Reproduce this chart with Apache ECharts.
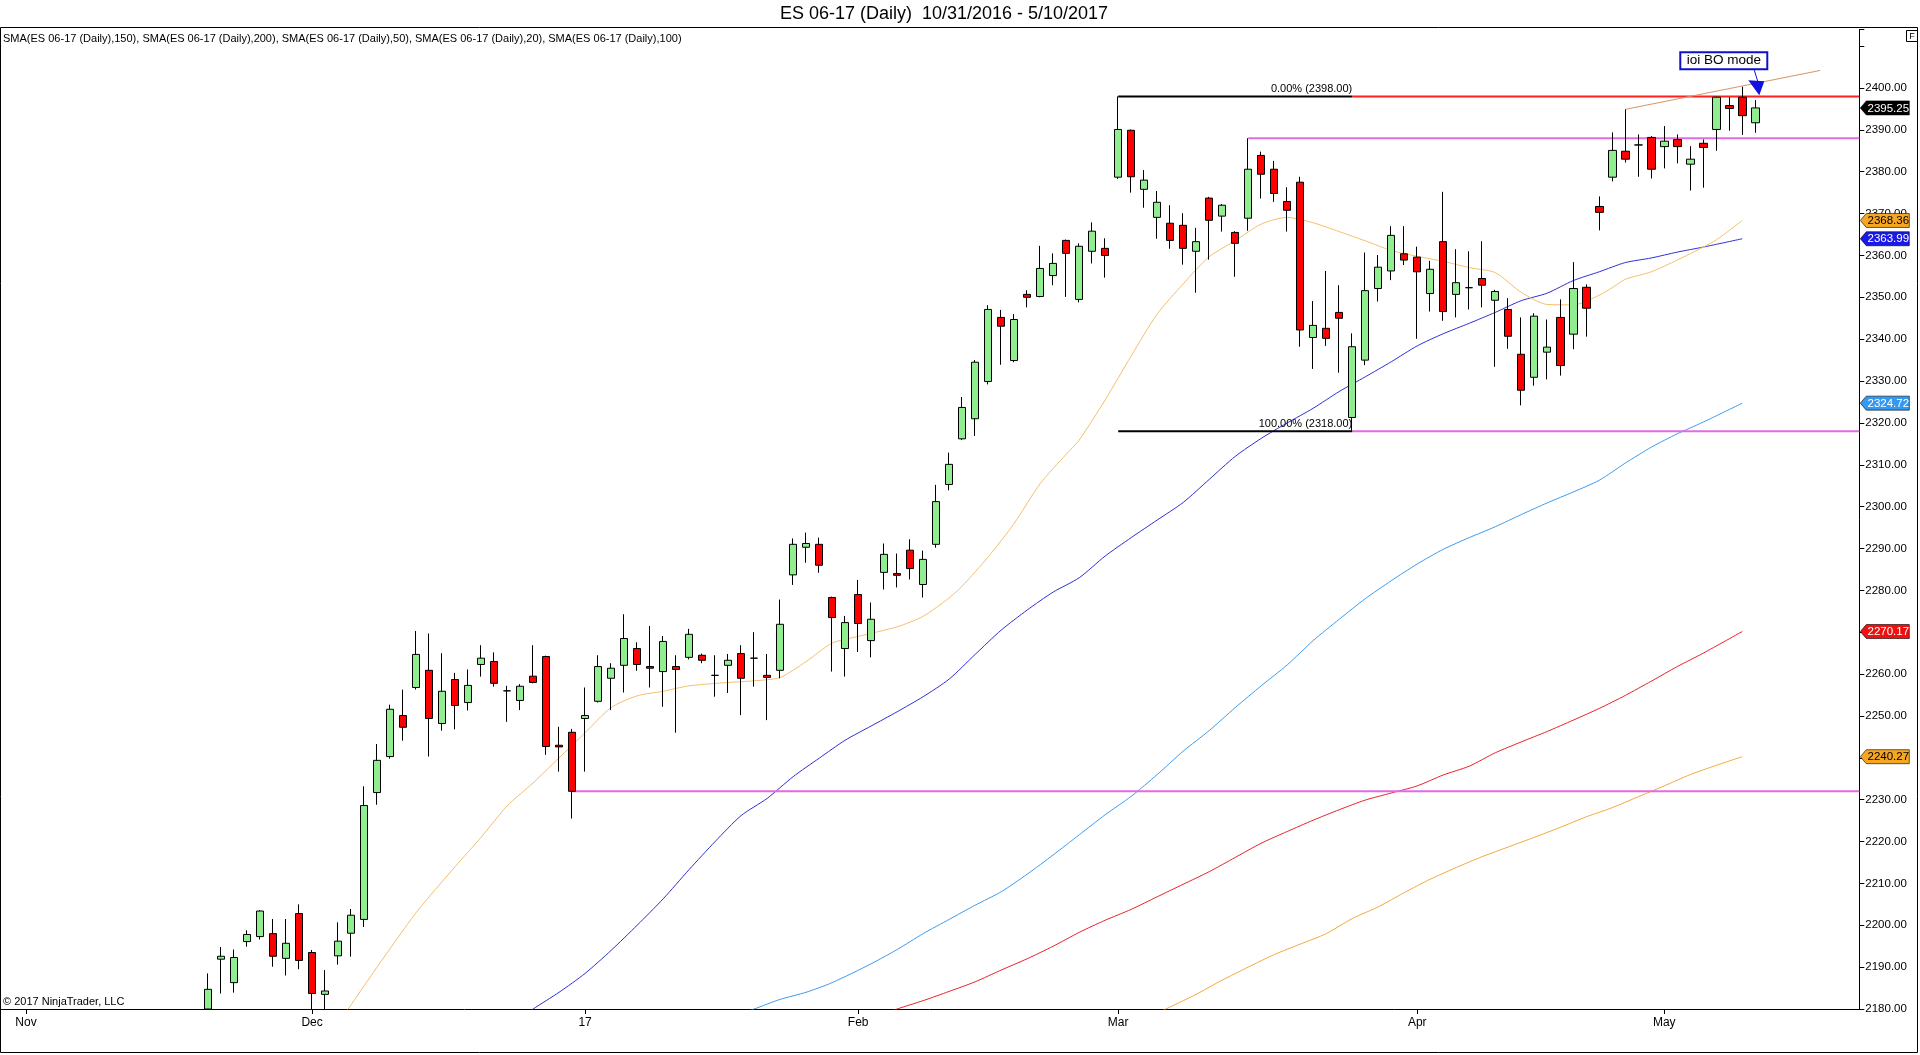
<!DOCTYPE html>
<html><head><meta charset="utf-8">
<script src="https://cdn.jsdelivr.net/npm/echarts@6/dist/echarts.min.js"></script>
<style>html,body{margin:0;padding:0;background:#fff;overflow:hidden}#c{width:1920px;height:1055px}</style>
</head><body><div id="c"></div>
<script>
// ---------- categories (trading days) ----------
const dates = [
'2016-10-28',
'2016-10-31','2016-11-01','2016-11-02','2016-11-03','2016-11-04',
'2016-11-07','2016-11-08','2016-11-09','2016-11-10','2016-11-11',
'2016-11-14','2016-11-15','2016-11-16','2016-11-17','2016-11-18',
'2016-11-21','2016-11-22','2016-11-23','2016-11-24','2016-11-25',
'2016-11-28','2016-11-29','2016-11-30','2016-12-01','2016-12-02',
'2016-12-05','2016-12-06','2016-12-07','2016-12-08','2016-12-09',
'2016-12-12','2016-12-13','2016-12-14','2016-12-15','2016-12-16',
'2016-12-19','2016-12-20','2016-12-21','2016-12-22','2016-12-23',
'2016-12-27','2016-12-28','2016-12-29','2016-12-30',
'2017-01-03','2017-01-04','2017-01-05','2017-01-06',
'2017-01-09','2017-01-10','2017-01-11','2017-01-12','2017-01-13',
'2017-01-16','2017-01-17','2017-01-18','2017-01-19','2017-01-20',
'2017-01-23','2017-01-24','2017-01-25','2017-01-26','2017-01-27',
'2017-01-30','2017-01-31','2017-02-01','2017-02-02','2017-02-03',
'2017-02-06','2017-02-07','2017-02-08','2017-02-09','2017-02-10',
'2017-02-13','2017-02-14','2017-02-15','2017-02-16','2017-02-17',
'2017-02-20','2017-02-21','2017-02-22','2017-02-23','2017-02-24',
'2017-02-27','2017-02-28','2017-03-01','2017-03-02','2017-03-03',
'2017-03-06','2017-03-07','2017-03-08','2017-03-09','2017-03-10',
'2017-03-13','2017-03-14','2017-03-15','2017-03-16','2017-03-17',
'2017-03-20','2017-03-21','2017-03-22','2017-03-23','2017-03-24',
'2017-03-27','2017-03-28','2017-03-29','2017-03-30','2017-03-31',
'2017-04-03','2017-04-04','2017-04-05','2017-04-06','2017-04-07',
'2017-04-10','2017-04-11','2017-04-12','2017-04-13',
'2017-04-17','2017-04-18','2017-04-19','2017-04-20','2017-04-21',
'2017-04-24','2017-04-25','2017-04-26','2017-04-27','2017-04-28',
'2017-05-01','2017-05-02','2017-05-03','2017-05-04','2017-05-05',
'2017-05-08','2017-05-09','2017-05-10',
'2017-05-11','2017-05-12','2017-05-15','2017-05-16','2017-05-17','2017-05-18','2017-05-19','2017-05-22'
];
const monthLabels = [['2016-11-01','Nov'],['2016-12-01','Dec'],['2017-01-03','17'],['2017-02-01','Feb'],['2017-03-01','Mar'],['2017-04-03','Apr'],['2017-05-01','May']];

// ---------- daily bars: date, open, high, low, close ----------
const bars = [
['2016-11-21',2180.0,2188.5,2180.0,2184.7],['2016-11-22',2191.9,2194.8,2183.7,2192.6],
['2016-11-23',2186.3,2194.2,2183.9,2192.3],['2016-11-24',2196.1,2198.8,2194.9,2197.8],
['2016-11-25',2197.3,2203.6,2196.6,2203.4],['2016-11-28',2198.0,2201.5,2190.1,2192.6],
['2016-11-29',2192.1,2201.5,2188.0,2195.7],['2016-11-30',2202.8,2205.0,2189.5,2191.6],
['2016-12-01',2193.5,2194.1,2180.0,2183.7],['2016-12-02',2183.5,2189.3,2180.0,2184.3],
['2016-12-05',2192.7,2200.7,2190.6,2196.2],['2016-12-06',2198.1,2203.9,2192.5,2202.4],
['2016-12-07',2201.4,2233.2,2199.6,2228.6],['2016-12-08',2231.7,2243.3,2228.8,2239.4],
['2016-12-09',2240.3,2252.7,2239.8,2251.6],['2016-12-12',2250.1,2256.3,2244.1,2247.3],
['2016-12-13',2256.8,2270.3,2256.3,2264.7],['2016-12-14',2260.9,2269.7,2240.3,2249.4],
['2016-12-15',2248.2,2265.0,2246.5,2255.9],['2016-12-16',2258.7,2260.3,2246.8,2252.5],
['2016-12-19',2253.2,2261.1,2251.3,2257.3],['2016-12-20',2262.3,2266.9,2259.4,2263.8],
['2016-12-21',2263.0,2265.2,2257.0,2257.8],['2016-12-22',2256.0,2257.2,2248.6,2256.0],
['2016-12-23',2253.7,2257.6,2251.4,2257.1],['2016-12-27',2259.5,2266.9,2257.8,2258.0],
['2016-12-28',2264.2,2264.4,2240.7,2242.7],['2016-12-29',2243.0,2247.4,2236.7,2242.6],
['2016-12-30',2246.1,2246.9,2225.5,2232.0],['2017-01-03',2249.4,2256.8,2236.7,2250.1],
['2017-01-04',2253.5,2264.5,2253.2,2261.8],['2017-01-05',2259.0,2262.6,2251.4,2261.4],
['2017-01-06',2262.1,2274.3,2255.6,2268.5],['2017-01-09',2266.1,2267.6,2260.8,2262.3],
['2017-01-10',2261.8,2271.5,2256.8,2261.4],['2017-01-11',2260.6,2269.1,2252.2,2267.8],
['2017-01-12',2261.8,2264.5,2246.0,2261.1],['2017-01-13',2264.0,2270.8,2263.5,2269.5],
['2017-01-16',2264.5,2264.9,2262.6,2263.3],['2017-01-17',2259.7,2264.5,2254.6,2259.7],
['2017-01-18',2262.1,2264.8,2255.5,2263.3],['2017-01-19',2264.9,2266.9,2250.2,2259.0],
['2017-01-20',2263.8,2270.0,2257.0,2263.8],['2017-01-23',2259.7,2264.8,2249.0,2259.2],
['2017-01-24',2260.9,2277.8,2259.0,2271.9],['2017-01-25',2283.7,2292.4,2281.3,2291.0],
['2017-01-26',2290.3,2293.8,2286.6,2291.2],['2017-01-27',2291.0,2292.6,2284.2,2286.0],
['2017-01-30',2278.3,2278.5,2260.6,2273.5],['2017-01-31',2266.1,2273.9,2259.4,2272.3],
['2017-02-01',2279.0,2282.5,2265.3,2272.1],['2017-02-02',2268.0,2277.1,2264.0,2273.1],
['2017-02-03',2284.3,2291.2,2280.2,2288.6],['2017-02-06',2284.0,2288.8,2280.7,2283.6],
['2017-02-07',2289.6,2292.2,2282.6,2285.2],['2017-02-08',2281.4,2289.5,2278.3,2287.4],
['2017-02-09',2291.0,2305.2,2290.2,2301.2],['2017-02-10',2305.3,2312.9,2303.9,2310.1],
['2017-02-13',2316.2,2326.2,2315.9,2323.7],['2017-02-14',2321.0,2335.0,2316.9,2334.5],
['2017-02-15',2329.9,2348.1,2329.2,2347.1],['2017-02-16',2345.2,2347.0,2333.9,2343.1],
['2017-02-17',2334.9,2346.0,2334.5,2344.7],['2017-02-20',2350.7,2351.7,2347.6,2350.0],
['2017-02-21',2350.2,2362.3,2350.0,2356.9],['2017-02-22',2355.2,2360.5,2352.9,2358.1],
['2017-02-23',2363.6,2363.8,2350.1,2360.5],['2017-02-24',2349.5,2362.9,2348.8,2362.2],
['2017-02-27',2361.0,2367.9,2358.1,2365.8],['2017-02-28',2361.7,2364.1,2354.7,2360.0],
['2017-03-01',2378.7,2398.0,2378.3,2390.1],['2017-03-02',2389.9,2390.1,2375.0,2378.8],
['2017-03-03',2375.8,2380.4,2371.4,2378.0],['2017-03-06',2369.1,2375.4,2364.0,2372.7],
['2017-03-07',2367.7,2372.0,2361.6,2363.6],['2017-03-08',2367.2,2370.1,2357.8,2361.7],
['2017-03-09',2361.0,2366.6,2351.1,2363.3],['2017-03-10',2373.7,2374.0,2359.0,2368.4],
['2017-03-13',2369.4,2372.3,2365.7,2372.0],['2017-03-14',2365.5,2365.8,2354.9,2362.9],
['2017-03-15',2368.9,2388.0,2365.9,2380.6],['2017-03-16',2383.9,2384.8,2373.6,2379.4],
['2017-03-17',2380.6,2382.6,2372.8,2374.8],['2017-03-20',2372.9,2376.3,2365.7,2370.8],
['2017-03-21',2377.5,2378.8,2338.2,2342.2],['2017-03-22',2340.4,2349.1,2332.9,2343.3],
['2017-03-23',2342.6,2356.3,2338.4,2340.2],['2017-03-24',2346.4,2352.9,2332.0,2345.0],
['2017-03-27',2321.3,2341.4,2318.0,2338.2],['2017-03-28',2335.0,2360.7,2333.8,2351.6],
['2017-03-29',2352.1,2360.1,2349.0,2357.2],['2017-03-30',2356.3,2367.0,2354.1,2364.8],
['2017-03-31',2360.4,2367.0,2357.7,2358.9],['2017-04-03',2359.6,2362.1,2340.1,2356.1],
['2017-04-04',2350.9,2358.7,2346.6,2356.7],['2017-04-05',2363.3,2375.2,2344.4,2346.6],
['2017-04-06',2350.7,2361.5,2345.2,2353.5],['2017-04-07',2352.3,2361.0,2347.1,2352.3],
['2017-04-10',2354.5,2363.4,2347.6,2352.9],['2017-04-11',2349.3,2351.8,2333.4,2351.4],
['2017-04-12',2347.1,2349.8,2337.7,2340.7],['2017-04-13',2336.4,2345.2,2324.2,2327.8],
['2017-04-17',2330.9,2346.2,2328.9,2345.5],['2017-04-18',2336.9,2344.7,2330.4,2338.1],
['2017-04-19',2345.2,2349.5,2331.3,2333.7],['2017-04-20',2341.2,2358.4,2337.6,2352.1],
['2017-04-21',2352.4,2353.1,2340.6,2347.4],['2017-04-24',2371.7,2374.1,2366.0,2370.3],
['2017-04-25',2378.7,2389.4,2377.7,2385.1],['2017-04-26',2384.9,2394.9,2382.2,2383.0],
['2017-04-27',2386.4,2388.9,2378.8,2386.4],['2017-04-28',2388.2,2388.5,2378.4,2380.6],
['2017-05-01',2386.0,2390.9,2380.8,2387.3],['2017-05-02',2387.7,2388.9,2382.0,2386.0],
['2017-05-03',2381.8,2386.1,2375.5,2383.0],['2017-05-04',2386.8,2387.7,2376.2,2385.8],
['2017-05-05',2390.1,2397.9,2385.0,2397.8],['2017-05-08',2395.8,2397.8,2389.8,2395.1],
['2017-05-09',2397.8,2400.3,2388.8,2393.4],['2017-05-10',2391.7,2397.1,2389.3,2395.25]
];

// ---------- moving averages ----------
const sma20 = [
['2016-12-05',2176.5],['2016-12-06',2181],['2016-12-08',2190],['2016-12-13',2203],['2016-12-16',2214],
['2016-12-20',2221],['2016-12-22',2228.5],['2016-12-27',2234],['2016-12-29',2240],['2017-01-03',2246],
['2017-01-05',2252],['2017-01-09',2254.8],['2017-01-11',2255.9],['2017-01-13',2257.2],['2017-01-18',2258],
['2017-01-20',2258.4],['2017-01-24',2259.2],['2017-01-26',2263],['2017-01-30',2267.4],['2017-02-01',2269],
['2017-02-06',2271.3],['2017-02-08',2273.8],['2017-02-10',2278.2],['2017-02-13',2281],['2017-02-15',2288],
['2017-02-17',2296],['2017-02-21',2305.5],['2017-02-23',2312.5],['2017-02-24',2315.9],['2017-02-28',2325.5],
['2017-03-02',2336],['2017-03-06',2346],['2017-03-08',2353.2],['2017-03-10',2359.7],['2017-03-14',2363.5],
['2017-03-16',2367.5],['2017-03-20',2369.1],['2017-03-22',2367.8],['2017-03-24',2365.7],['2017-03-28',2363.5],
['2017-03-30',2361.2],['2017-04-03',2359.8],['2017-04-05',2358.6],['2017-04-07',2357.1],['2017-04-11',2355.9],
['2017-04-13',2351.2],['2017-04-18',2348.3],['2017-04-20',2348.2],['2017-04-24',2350.5],['2017-04-25',2352.3],
['2017-04-26',2354.3],['2017-04-28',2356.1],['2017-05-02',2358.9],['2017-05-04',2362],['2017-05-05',2363.7],
['2017-05-09',2368.36]
];
const sma50 = [
['2016-12-23',2177.8],['2016-12-27',2180],['2016-12-29',2184],['2017-01-03',2188.5],['2017-01-05',2194],
['2017-01-09',2200],['2017-01-11',2206.3],['2017-01-13',2213.3],['2017-01-17',2220],['2017-01-19',2226.2],
['2017-01-23',2230.3],['2017-01-25',2235.5],['2017-01-27',2239.9],['2017-01-31',2244.2],['2017-02-02',2247.6],
['2017-02-06',2251],['2017-02-08',2254.6],['2017-02-10',2258.8],['2017-02-14',2264.7],['2017-02-16',2270.5],
['2017-02-20',2275.3],['2017-02-22',2279.6],['2017-02-24',2283],['2017-02-28',2288.2],['2017-03-02',2292.6],
['2017-03-06',2296.8],['2017-03-08',2301],['2017-03-10',2306.5],['2017-03-14',2312],['2017-03-16',2316.3],
['2017-03-20',2320],['2017-03-22',2323.5],['2017-03-24',2327.5],['2017-03-28',2331],['2017-03-30',2334.6],
['2017-04-03',2338.4],['2017-04-05',2341.3],['2017-04-07',2343.8],['2017-04-11',2346.4],['2017-04-13',2349.2],
['2017-04-18',2351],['2017-04-20',2354],['2017-04-24',2356.1],['2017-04-26',2358.3],['2017-04-28',2359.4],
['2017-05-02',2360.8],['2017-05-04',2362],['2017-05-09',2363.99]
];
const sma100 = [
['2017-01-19',2179],['2017-01-20',2180],['2017-01-24',2182.3],['2017-01-26',2184],['2017-01-30',2186.3],
['2017-02-02',2190.8],['2017-02-06',2194.2],['2017-02-08',2198],['2017-02-10',2201.4],['2017-02-14',2204.8],
['2017-02-16',2208],['2017-02-20',2212.2],['2017-02-22',2216.8],['2017-02-24',2221.6],['2017-02-28',2226.4],
['2017-03-02',2230.8],['2017-03-06',2236],['2017-03-08',2241.6],['2017-03-10',2246.5],['2017-03-14',2252],
['2017-03-16',2257.2],['2017-03-20',2262.2],['2017-03-22',2268],['2017-03-24',2273.1],['2017-03-28',2278],
['2017-03-30',2282.3],['2017-04-03',2286.3],['2017-04-05',2289.8],['2017-04-07',2292.6],['2017-04-11',2295.2],
['2017-04-13',2298.1],['2017-04-18',2300.9],['2017-04-20',2303.5],['2017-04-24',2306.3],['2017-04-26',2310.4],
['2017-04-28',2314.2],['2017-05-02',2317.4],['2017-05-04',2320.2],['2017-05-09',2324.72]
];
const sma150 = [
['2017-02-03',2178.8],['2017-02-06',2180],['2017-02-08',2182],['2017-02-10',2184.2],['2017-02-14',2186.5],
['2017-02-16',2189.3],['2017-02-20',2192],['2017-02-22',2195],['2017-02-24',2198.3],['2017-02-28',2201.2],
['2017-03-02',2203.8],['2017-03-06',2206.8],['2017-03-08',2209.8],['2017-03-10',2212.8],['2017-03-14',2216.2],
['2017-03-16',2219.6],['2017-03-20',2222.4],['2017-03-22',2225.1],['2017-03-24',2227.6],['2017-03-28',2229.9],
['2017-03-30',2231.6],['2017-04-03',2233.3],['2017-04-05',2235.9],['2017-04-07',2238],['2017-04-11',2241.2],
['2017-04-13',2243.8],['2017-04-18',2246.3],['2017-04-20',2249],['2017-04-24',2251.8],['2017-04-26',2254.9],
['2017-04-28',2258.3],['2017-05-02',2261.8],['2017-05-04',2265],['2017-05-09',2270.17]
];
const sma200 = [
['2017-03-06',2179],['2017-03-07',2180.5],['2017-03-09',2183.5],['2017-03-13',2186.9],['2017-03-15',2190],
['2017-03-17',2193],['2017-03-21',2195.5],['2017-03-23',2198],['2017-03-27',2201.6],['2017-03-29',2204.4],
['2017-03-31',2207.8],['2017-04-04',2211],['2017-04-06',2213.8],['2017-04-10',2216.4],['2017-04-12',2218.7],
['2017-04-17',2221],['2017-04-19',2223.4],['2017-04-21',2225.9],['2017-04-25',2228.1],['2017-04-27',2230.7],
['2017-05-01',2233.3],['2017-05-03',2236],['2017-05-05',2238.2],['2017-05-09',2240.27]
];

// ---------- drawings ----------
const fib0 = [['2017-03-01',2398],['2017-03-27',2398]];
const fib100 = [['2017-03-01',2318],['2017-03-27',2318]];
const redLevel = [['2017-03-27',2398],['2017-05-22',2398]];
const pinkHigh = [['2017-03-15',2388],['2017-05-22',2388]];
const pinkMid = [['2017-03-27',2318],['2017-05-22',2318]];
const pinkLow = [['2016-12-30',2232],['2017-05-22',2232]];
const trendLine = [['2017-04-26',2394.9],['2017-05-17',2404.2]];
const arrowTip = ['2017-05-10',2398.3];

const FONT = '"Liberation Sans", Arial, sans-serif';
const barMap = {};
bars.forEach(b => { barMap[b[0]] = [b[1], b[4], b[3], b[2]]; });
const candleData = dates.map(d => barMap[d] || '-');
const labelMap = {};
monthLabels.forEach(m => { labelMap[m[0]] = m[1]; });
const isMonth = (i, v) => labelMap[v] !== undefined;

function lineSeries(data, color, width, z, smooth) {
  return { type: 'line', data: data, symbol: 'none', connectNulls: true, silent: true,
    smooth: smooth ? 0.25 : false,
    lineStyle: { color: color, width: width }, z: z, clip: true, animation: false };
}

const chart = echarts.init(document.getElementById('c'), null, { renderer: 'canvas' });
chart.setOption({
  animation: false,
  backgroundColor: '#fff',
  grid: { left: 0, right: 60.7, top: 29.4, bottom: 46 },
  xAxis: {
    type: 'category', data: dates, boundaryGap: false,
    axisLine: { lineStyle: { color: '#000', width: 1 } },
    axisTick: { show: true, interval: isMonth, length: 5, lineStyle: { color: '#000' } },
    axisLabel: { interval: isMonth, formatter: v => labelMap[v] || '', color: '#000', fontSize: 12, fontFamily: FONT, margin: 8 },
    splitLine: { show: false }
  },
  yAxis: {
    type: 'value', position: 'right', min: 2180, max: 2414, interval: 10, scale: true,
    axisLine: { show: true, lineStyle: { color: '#000', width: 1 } },
    axisTick: { show: true, length: 5, lineStyle: { color: '#000' } },
    axisLabel: { formatter: v => (v > 2405 ? '' : v.toFixed(2)), color: '#000', fontSize: 11.5, fontFamily: FONT, margin: 6 },
    splitLine: { show: false }
  },
  series: [
    lineSeries(sma200, '#F2A93B', 1, 2, true),
    lineSeries(sma150, '#E8202A', 1, 2, true),
    lineSeries(sma100, '#3C9BEF', 1, 2, true),
    lineSeries(sma50, '#2E2ED6', 1, 2, true),
    lineSeries(sma20, '#F5BE6A', 1, 2, true),
    lineSeries(pinkLow, '#E36AE3', 2, 3),
    lineSeries(pinkMid, '#E36AE3', 2, 3),
    lineSeries(pinkHigh, '#E36AE3', 2, 3),
    lineSeries(redLevel, '#FF2020', 2, 3),
    lineSeries(fib0, '#000000', 2, 4),
    lineSeries(fib100, '#000000', 2, 4),
    lineSeries(trendLine, '#DA9465', 1, 3),
    {
      type: 'candlestick', data: candleData, barWidth: 8, z: 5, silent: true, clip: true,
      itemStyle: { color: '#90EE90', color0: '#FF0000', borderColor: '#000', borderColor0: '#000', borderWidth: 1 }
    }
  ]
});

// ---------- annotations positioned through the chart's scales ----------
const px = (d, v) => chart.convertToPixel({ gridIndex: 0 }, [dates.indexOf(d), v]);
const axisX = chart.convertToPixel({ gridIndex: 0 }, [dates.length - 1, 2400])[0];
const lastBar = bars[bars.length - 1];
const tags = [
  [lastBar[4], '#000000', '#FFFFFF'],
  [sma20[sma20.length - 1][1], '#F5A623', '#000000'],
  [sma50[sma50.length - 1][1], '#1A1AE6', '#FFFFFF'],
  [sma100[sma100.length - 1][1], '#3399F3', '#FFFFFF'],
  [sma150[sma150.length - 1][1], '#F01010', '#FFFFFF'],
  [sma200[sma200.length - 1][1], '#F5A623', '#000000']
];
const g = [];
g.push({ type: 'rect', shape: { x: 0.5, y: 27.5, width: 1917, height: 1025 }, style: { fill: 'none', stroke: '#000', lineWidth: 1 }, z: 1 });
g.push({ type: 'text', x: 944, y: 14, style: { text: 'ES 06-17 (Daily)  10/31/2016 - 5/10/2017', font: '18px ' + FONT, fill: '#000', textAlign: 'center', textVerticalAlign: 'middle' }, z: 10 });
g.push({ type: 'text', x: 3, y: 39, style: { text: 'SMA(ES 06-17 (Daily),150), SMA(ES 06-17 (Daily),200), SMA(ES 06-17 (Daily),50), SMA(ES 06-17 (Daily),20), SMA(ES 06-17 (Daily),100)', font: '11px ' + FONT, fill: '#000', textAlign: 'left', textVerticalAlign: 'middle' }, z: 10 });
g.push({ type: 'text', x: 3, y: 1002, style: { text: '\u00A9 2017 NinjaTrader, LLC', font: '11px ' + FONT, fill: '#000', textAlign: 'left', textVerticalAlign: 'middle' }, z: 10 });
g.push({ type: 'rect', shape: { x: 1906.5, y: 30.5, width: 11, height: 11 }, style: { fill: '#fff', stroke: '#000', lineWidth: 1 }, z: 10 });
g.push({ type: 'text', x: 1912, y: 36.5, style: { text: 'F', font: '9px ' + FONT, fill: '#000', textAlign: 'center', textVerticalAlign: 'middle' }, z: 11 });
const f0 = px(fib0[1][0], fib0[1][1]);
g.push({ type: 'text', x: f0[0], y: f0[1] - 2, style: { text: '0.00% (' + fib0[0][1].toFixed(2) + ')', font: '11px ' + FONT, fill: '#000', textAlign: 'right', textVerticalAlign: 'bottom' }, z: 10 });
const f1 = px(fib100[1][0], fib100[1][1]);
g.push({ type: 'text', x: f1[0], y: f1[1] - 2, style: { text: '100.00% (' + fib100[0][1].toFixed(2) + ')', font: '11px ' + FONT, fill: '#000', textAlign: 'right', textVerticalAlign: 'bottom' }, z: 10 });
tags.forEach(t => {
  const y = chart.convertToPixel({ gridIndex: 0 }, [0, t[0]])[1];
  const x0 = axisX + 1;
  g.push({ type: 'polygon', shape: { points: [[x0, y], [x0 + 6, y - 7], [x0 + 49, y - 7], [x0 + 49, y + 7], [x0 + 6, y + 7]] },
    style: { fill: t[1], stroke: '#000', lineWidth: 0.6 }, z: 20 });
  g.push({ type: 'text', x: x0 + 28, y: y + 0.5, style: { text: t[0].toFixed(2), font: '11.5px ' + FONT, fill: t[2], textAlign: 'center', textVerticalAlign: 'middle' }, z: 21 });
});
const tip = px(arrowTip[0], arrowTip[1]);
const tx = tip[0] + 4, ty = tip[1];
g.push({ type: 'rect', shape: { x: tx - 79, y: ty - 43, width: 87, height: 17 }, style: { fill: '#fff', stroke: '#1010C8', lineWidth: 2 }, z: 10 });
g.push({ type: 'text', x: tx - 35.5, y: ty - 34.5, style: { text: 'ioi BO mode', font: '13.5px ' + FONT, fill: '#000', textAlign: 'center', textVerticalAlign: 'middle' }, z: 11 });
g.push({ type: 'line', shape: { x1: tx - 5, y1: ty - 25, x2: tx - 1, y2: ty - 12 }, style: { stroke: '#1010E0', lineWidth: 1 }, z: 10 });
g.push({ type: 'polygon', shape: { points: [[tx - 11, ty - 15], [tx + 5, ty - 14], [tx, ty]] }, style: { fill: '#1010E0' }, z: 10 });

chart.setOption({ graphic: g });
</script>
</body></html>
